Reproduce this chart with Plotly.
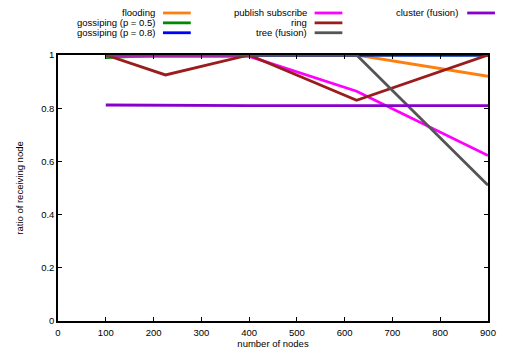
import plotly.graph_objects as go

# number of nodes in each simulation run
nodes = [100, 225, 400, 625, 900]

# ratio of nodes that received the message, per dissemination strategy
flooding = [1.0, 1.0, 1.0, 1.0, 0.92]
gossip_05 = [0.99, 1.0, 1.0, 1.0, 1.0]
gossip_08 = [1.0, 1.0, 1.0, 1.0, 1.0]
pub_sub = [0.995, 0.995, 0.995, 0.864, 0.622]
ring = [1.0, 0.925, 1.0, 0.83, 1.0]
tree = [1.0, 1.0, 1.0, 1.0, 0.51]
cluster = [0.812, 0.81, 0.81, 0.81, 0.81]

series_names = ["flooding", "gossiping (p = 0.5)", "gossiping (p = 0.8)",
                "publish subscribe", "ring", "tree (fusion)", "cluster (fusion)"]
series_values = [flooding, gossip_05, gossip_08, pub_sub, ring, tree, cluster]
series_colors = ["#ff7f0e", "#008a00", "#0000ff", "#ff00ff", "#9b1c1c", "#555555", "#8800cc"]

x_ticks = [0, 100, 200, 300, 400, 500, 600, 700, 800, 900]
y_ticks = [0, 0.2, 0.4, 0.6, 0.8, 1]
y_tick_text = ["0", "0.2", "0.4", "0.6", "0.8", "1"]

W, H = 508, 359
L, R, T, B = 58, 16, 55, 35
plot_w = W - L - R
plot_h = H - T - B


def px(x):
    return (x - L) / plot_w


def py(y):
    return (H - B - y) / plot_h


FONT = "Liberation Sans, Arial, sans-serif"

fig = go.Figure()
for name, vals, col in zip(series_names, series_values, series_colors):
    fig.add_trace(go.Scatter(x=nodes, y=vals, mode="lines", name=name,
                             line=dict(color=col, width=2.8), showlegend=False,
                             cliponaxis=False))

# gnuplot-style key: right-aligned labels followed by a line sample
key_cols = [(158, 164, 192), (311, 317, 345), (464, 471, 499)]
key_rows = [12.5, 22.5, 32.5]
slots = [(0, 0), (0, 1), (0, 2), (1, 0), (1, 1), (1, 2), (2, 0)]
annotations = []
shapes = []
for (ci, ri), name, col in zip(slots, series_names, series_colors):
    tx, s0, s1 = key_cols[ci]
    yy = key_rows[ri]
    annotations.append(dict(x=px(tx), y=py(yy), xref="paper", yref="paper",
                            text=name, showarrow=False, xanchor="right",
                            yanchor="middle", font=dict(size=9.5, color="#000")))
    shapes.append(dict(type="line", xref="paper", yref="paper",
                       x0=px(s0), x1=px(s1), y0=py(yy), y1=py(yy),
                       line=dict(color=col, width=2.8)))

axis_common = dict(showline=True, linecolor="#000", linewidth=1.5, mirror="allticks",
                   ticks="inside", ticklen=4, tickcolor="#000", tickwidth=1,
                   showgrid=False, zeroline=False,
                   tickfont=dict(size=9.5, color="#000", family=FONT))

fig.update_layout(
    width=W, height=H,
    margin=dict(l=L, r=R, t=T, b=B),
    paper_bgcolor="white", plot_bgcolor="white",
    font=dict(family=FONT, size=9.5, color="#000"),
    xaxis=dict(range=[0, 900], tickvals=x_ticks, ticklabelstandoff=2,
               title=dict(text="number of nodes", standoff=2, font=dict(size=9.5)),
               **axis_common),
    yaxis=dict(range=[0, 1], tickvals=y_ticks, ticktext=y_tick_text,
               title=dict(text="ratio of receiving node", standoff=16, font=dict(size=9.5)),
               **axis_common),
    annotations=annotations,
    shapes=shapes,
)

fig.write_html("out.html")
